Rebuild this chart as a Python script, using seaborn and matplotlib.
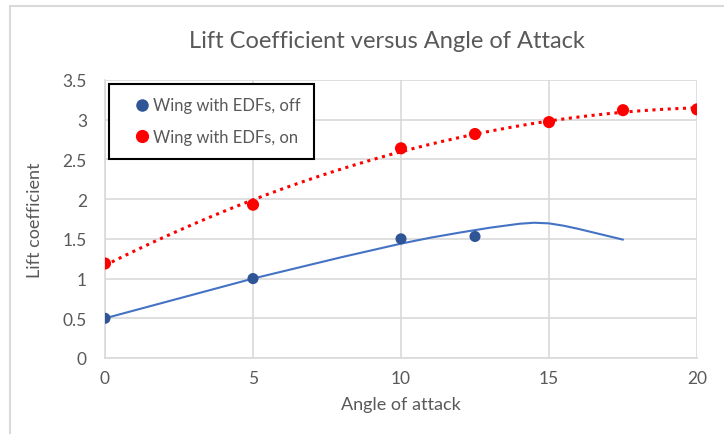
import matplotlib
matplotlib.use("Agg")
import matplotlib.pyplot as plt
import numpy as np
import pandas as pd
import seaborn as sns
from matplotlib.lines import Line2D

# measured points
angle_off = [0, 5, 10, 12.5]
cl_off = [0.50, 1.00, 1.50, 1.53]
angle_on = [0, 5, 10, 12.5, 15, 17.5, 20]
cl_on = [1.19, 1.93, 2.64, 2.82, 2.97, 3.12, 3.13]

# smoothed blue curve
curve_angle = [0, 5, 6, 7, 8, 9, 10, 11, 12, 13, 14, 14.5, 15, 15.5, 16, 16.5, 17, 17.5]
curve_cl = [0.50, 1.00, 1.09, 1.18, 1.27, 1.355, 1.44, 1.515, 1.58, 1.64, 1.69, 1.703,
            1.695, 1.665, 1.625, 1.58, 1.535, 1.49]

x_ticks = [0, 5, 10, 15, 20]
y_ticks = [0, 0.5, 1, 1.5, 2, 2.5, 3, 3.5]

blue_dot = "#2f5597"
blue_line = "#4472c4"
red = "#ff0000"
grey_text = "#595959"

sns.set_theme(style="white")
plt.rcParams["font.family"] = ["Lato", "DejaVu Sans"]

W, H = 724, 435
fig = plt.figure(figsize=(W / 100, H / 100), dpi=100)
ax = fig.add_axes([105 / W, 1 - 359 / H, (697 - 105) / W, (359 - 81) / H])

df_off = pd.DataFrame({"angle": angle_off, "cl": cl_off})
df_on = pd.DataFrame({"angle": angle_on, "cl": cl_on})
df_curve = pd.DataFrame({"angle": curve_angle, "cl": curve_cl})

# red trendline: polynomial fit through the "on" points
coef = np.polyfit(angle_on, cl_on, 2)
xs = np.linspace(0, 20, 200)
df_trend = pd.DataFrame({"angle": xs, "cl": np.polyval(coef, xs)})

sns.lineplot(data=df_curve, x="angle", y="cl", ax=ax, color=blue_line,
             linewidth=1.5, zorder=3)
sns.lineplot(data=df_trend, x="angle", y="cl", ax=ax, color=red,
             linewidth=2.2, linestyle=(0, (1, 1.5)), zorder=3)
sns.scatterplot(data=df_off, x="angle", y="cl", ax=ax, color=blue_dot,
                s=64, edgecolor="none", zorder=4)
sns.scatterplot(data=df_on, x="angle", y="cl", ax=ax, color=red,
                s=76, edgecolor="none", zorder=4)

ax.set_xlim(0, 20)
ax.set_ylim(0, 3.5)
ax.set_xticks(x_ticks)
ax.set_yticks(y_ticks)
ax.set_xticklabels([str(t) for t in x_ticks])
ax.set_yticklabels([f"{t:g}" for t in y_ticks])
ax.grid(True, color="#d9d9d9", linewidth=1.2)
ax.set_axisbelow(True)
for side in ["top", "right"]:
    ax.spines[side].set_visible(False)
for side in ["left", "bottom"]:
    ax.spines[side].set_color("#d9d9d9")
    ax.spines[side].set_linewidth(1.2)
ax.tick_params(axis="both", length=0, labelsize=12.5, labelcolor=grey_text)
ax.tick_params(axis="x", pad=9)
ax.tick_params(axis="y", pad=13)
ax.set_xlabel("Angle of attack", fontsize=13, color=grey_text, labelpad=7)
ax.set_ylabel("Lift coefficient", fontsize=13, color=grey_text, labelpad=14)

fig.text(387 / W, 1 - 42 / H, "Lift Coefficient versus Angle of Attack",
         ha="center", va="center", fontsize=17, color=grey_text)

handles = [
    Line2D([], [], marker="o", linestyle="none", color=blue_dot, markersize=8),
    Line2D([], [], marker="o", linestyle="none", color=red, markersize=8.5),
]
leg = ax.legend(handles, ["Wing with EDFs, off", "Wing with EDFs, on"],
                loc="upper left", bbox_to_anchor=(109 / W, 1 - 85 / H),
                bbox_transform=fig.transFigure, fontsize=12, frameon=True,
                fancybox=False, borderaxespad=0, borderpad=0.8,
                labelspacing=0.95, handletextpad=-0.55, handlelength=2.4,
                labelcolor=grey_text)
leg.get_frame().set_edgecolor("black")
leg.get_frame().set_linewidth(1.5)
leg.get_frame().set_alpha(1)

# chart-area border
fig.add_artist(Line2D([9.5 / W, 1], [1 - 6.5 / H, 1 - 6.5 / H],
                      transform=fig.transFigure, color="#d9d9d9", linewidth=1.5))
fig.add_artist(Line2D([9.5 / W, 9.5 / W], [0, 1 - 6.5 / H],
                      transform=fig.transFigure, color="#d9d9d9", linewidth=1.5))

fig.savefig("out.png", dpi=100, facecolor="white")
